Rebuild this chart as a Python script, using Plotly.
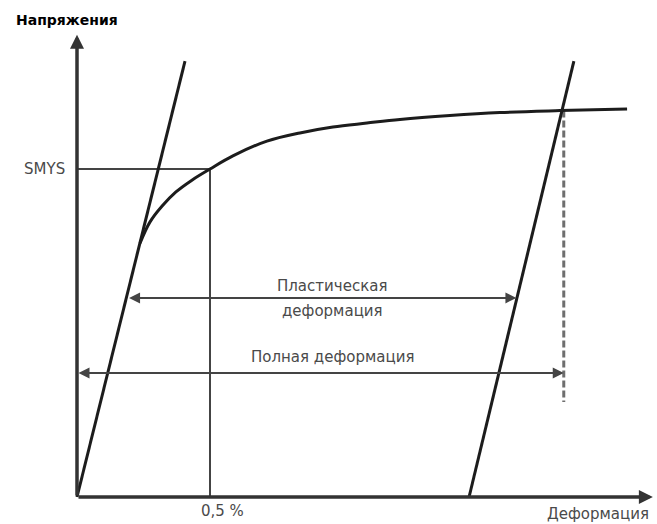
import plotly.graph_objects as go

# ---- data (strain in %, stress normalised to SMYS = 1) ----
curve_strain = [0.237, 0.274, 0.320, 0.372, 0.432, 0.500, 0.586, 0.714, 0.838, 0.962, 1.090, 1.214, 1.402, 1.590, 1.816, 2.068]
curve_stress = [0.774, 0.838, 0.887, 0.930, 0.966, 1.000, 1.040, 1.085, 1.110, 1.128, 1.140, 1.151, 1.163, 1.172, 1.178, 1.183]

elastic_strain = [0.0, 0.406]
elastic_stress = [0.0, 1.329]

unload_strain = [1.474, 1.868]
unload_stress = [0.0, 1.329]

smys_stress = 1.0
offset_strain = 0.5
total_strain = 1.83
total_stress = 1.178
dash_bottom = 0.290

plastic_level = 0.607
plastic_from = 0.19
plastic_to = 1.652
total_level = 0.378

x_axis_max = 2.165
y_axis_max = 1.409

x_range = [-0.2895, 2.1805]
y_range = [-0.0823, 1.5152]

axis_title_y = "Напряжения"
axis_title_x = "Деформация"
tick_x = "0,5 %"
tick_y = "SMYS"
label_plastic_1 = "Пластическая"
label_plastic_2 = "деформация"
label_total = "Полная деформация"

INK = "#1c1c1c"
GREY = "#444444"
TXT = "#4a4a4a"
FONT = "DejaVu Sans"

fig = go.Figure()

# offset construction lines (SMYS and 0.5 %)
fig.add_trace(go.Scatter(x=[0, offset_strain, offset_strain], y=[smys_stress, smys_stress, 0],
                         mode="lines", line=dict(color=GREY, width=2), hoverinfo="skip"))
# dashed line at total strain
fig.add_trace(go.Scatter(x=[total_strain, total_strain], y=[total_stress, dash_bottom],
                         mode="lines", line=dict(color="#6e6e6e", width=3, dash="7px,3px"), hoverinfo="skip"))
# elastic line
fig.add_trace(go.Scatter(x=elastic_strain, y=elastic_stress, mode="lines",
                         line=dict(color=INK, width=3), hoverinfo="skip"))
# unloading line
fig.add_trace(go.Scatter(x=unload_strain, y=unload_stress, mode="lines",
                         line=dict(color=INK, width=3), hoverinfo="skip"))
# stress-strain curve
fig.add_trace(go.Scatter(x=curve_strain, y=curve_stress, mode="lines",
                         line=dict(color=INK, width=3, shape="spline", smoothing=1.0), hoverinfo="skip"))

annotations = []
# axes with arrows
annotations.append(dict(x=0, y=y_axis_max, ax=0, ay=0, xref="x", yref="y", axref="x", ayref="y",
                        showarrow=True, text="", arrowhead=2, arrowsize=0.8, arrowwidth=3.5, arrowcolor="#333333"))
annotations.append(dict(x=x_axis_max, y=0, ax=0, ay=0, xref="x", yref="y", axref="x", ayref="y",
                        showarrow=True, text="", arrowhead=2, arrowsize=0.8, arrowwidth=3.5, arrowcolor="#333333"))
# dimension arrows
annotations.append(dict(x=plastic_to, y=plastic_level, ax=plastic_from, ay=plastic_level,
                        xref="x", yref="y", axref="x", ayref="y", showarrow=True, text="",
                        arrowhead=2, arrowside="end+start", arrowsize=1.1, arrowwidth=2, arrowcolor=GREY))
annotations.append(dict(x=total_strain, y=total_level, ax=0, ay=total_level,
                        xref="x", yref="y", axref="x", ayref="y", showarrow=True, text="",
                        arrowhead=2, arrowside="end+start", arrowsize=1.1, arrowwidth=2, arrowcolor=GREY))
# texts
annotations.append(dict(x=0.96, y=plastic_level, xref="x", yref="y", text=label_plastic_1, showarrow=False,
                        font=dict(family=FONT, size=15, color=TXT), xanchor="center", yanchor="middle",
                        yshift=12))
annotations.append(dict(x=0.96, y=plastic_level, xref="x", yref="y", text=label_plastic_2, showarrow=False,
                        font=dict(family=FONT, size=15, color=TXT), xanchor="center", yanchor="middle",
                        yshift=-13))
annotations.append(dict(x=0.96, y=total_level, xref="x", yref="y", text=label_total, showarrow=False,
                        font=dict(family=FONT, size=15, color=TXT), xanchor="center", yanchor="middle",
                        yshift=16))
annotations.append(dict(x=0, y=smys_stress, xref="x", yref="y", text=tick_y, showarrow=False,
                        font=dict(family=FONT, size=15, color=TXT), xanchor="right", yanchor="middle",
                        xshift=-10))
annotations.append(dict(x=offset_strain, y=0, xref="x", yref="y", text=tick_x, showarrow=False,
                        font=dict(family=FONT, size=15, color=TXT), xanchor="center", yanchor="top",
                        xshift=12, yshift=-3))
annotations.append(dict(x=x_axis_max, y=0, xref="x", yref="y", text=axis_title_x, showarrow=False,
                        font=dict(family=FONT, size=15, color=TXT), xanchor="left", yanchor="top",
                        xshift=-108, yshift=-6))
annotations.append(dict(x=0, y=y_axis_max, xref="x", yref="y", text="<b>" + axis_title_y + "</b>", showarrow=False,
                        font=dict(family=FONT, size=14, color="#000000"), xanchor="left", yanchor="bottom",
                        xshift=-63, yshift=5))

fig.update_layout(
    width=657, height=524, autosize=False,
    margin=dict(l=0, r=0, t=0, b=0),
    paper_bgcolor="white", plot_bgcolor="white",
    showlegend=False,
    xaxis=dict(range=x_range, visible=False, fixedrange=True),
    yaxis=dict(range=y_range, visible=False, fixedrange=True),
    annotations=annotations,
)

fig.write_html("out.html", post_script="document.body.style.margin='0';",
               config={"displayModeBar": False})
